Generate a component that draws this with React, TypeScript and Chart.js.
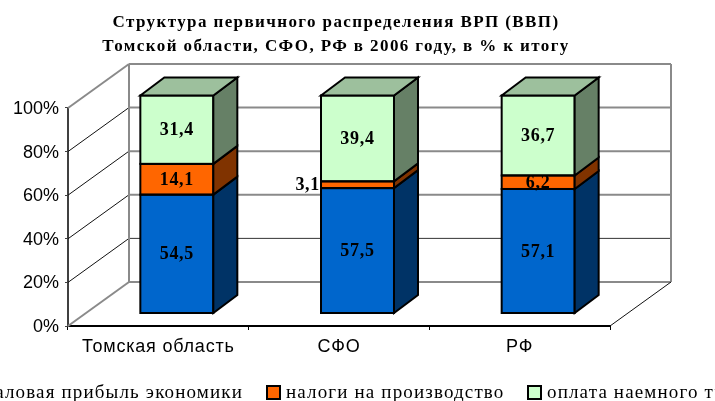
import React, { useEffect, useRef } from "react";
import { Chart, registerables } from "chart.js";

Chart.register(...registerables);

const categories = ["Томская область", "СФО", "РФ"];
const seriesNames = ["валовая прибыль экономики", "налоги на производство", "оплата наемного труда"];
const profit = [54.5, 57.5, 57.1];
const taxes = [14.1, 3.1, 6.2];
const wages = [31.4, 39.4, 36.7];
const titleLines = ["Структура первичного распределения ВРП (ВВП)", "Томской области, СФО, РФ в 2006 году, в % к итогу"];
const frontColors = ["#0066CC", "#FF6600", "#CCFFCC"];
const sideColors = ["#003366", "#803300", "#668066"];
const topColor = "#9DC09D";
const legendBoxes = [null, 267, 528];
const legendTexts = [243, 286, 547];

const WALL = { dx: 61, dy: 44 };
const BAR = { dx: 18.5, dy: 12.5, sideX: 24, sideY: 18 };

const spaced = (ctx: any, spacing: string, draw: () => void) => {
  ctx.letterSpacing = spacing;
  draw();
  ctx.letterSpacing = "0px";
};

const scene3d = {
  id: "scene3d",
  beforeDraw(chart: any) {
    if (chart.$spacingPatched) return;
    chart.$spacingPatched = true;
    const { ctx } = chart;
    const title = chart.titleBlock;
    const drawTitle = title.draw.bind(title);
    title.draw = (...args: any[]) => {
      ctx.save();
      ctx.translate(31, 0);
      spaced(ctx, "1.4px", () => drawTitle(...args));
      ctx.restore();
    };
    const x = chart.scales.x;
    const drawLabels = x.drawLabels.bind(x);
    x.drawLabels = (...args: any[]) => spaced(ctx, "0.8px", () => drawLabels(...args));
    const y = chart.scales.y;
    const drawYLabels = y.drawLabels.bind(y);
    y.drawLabels = (...args: any[]) => {
      ctx.save();
      ctx.translate(0, 1);
      drawYLabels(...args);
      ctx.restore();
    };
  },
  beforeDatasetsDraw(chart: any) {
    const { ctx, chartArea: a, scales } = chart;
    const y = scales.y;
    ctx.save();
    const line = (x1: number, y1: number, x2: number, y2: number, c: string, w: number) => {
      ctx.strokeStyle = c;
      ctx.lineWidth = w;
      ctx.beginPath();
      ctx.moveTo(x1, y1);
      ctx.lineTo(x2, y2);
      ctx.stroke();
    };
    y.ticks.forEach((t: any) => {
      const py = y.getPixelForValue(t.value);
      const edge = t.value === 0 || t.value === 100;
      line(a.left, py, a.left + WALL.dx, py - WALL.dy, edge ? "#8A8A8A" : "#111", edge ? 2 : 1);
      line(
        a.left + WALL.dx, py - WALL.dy, a.right + WALL.dx, py - WALL.dy,
        t.value === 20 ? "#333" : "#8A8A8A", t.value === 20 ? 1 : 2
      );
    });
    const top = y.getPixelForValue(100) - WALL.dy;
    const bottom = y.getPixelForValue(0) - WALL.dy;
    line(a.left + WALL.dx, top, a.left + WALL.dx, bottom, "#8A8A8A", 2);
    line(a.right + WALL.dx, top, a.right + WALL.dx, bottom, "#8A8A8A", 2);
    line(a.right, a.bottom, a.right + WALL.dx, bottom, "#111", 1);
    ctx.restore();
    ctx.save();
    ctx.translate(BAR.dx, -BAR.dy);
  },
  afterDatasetsDraw(chart: any) {
    const { ctx } = chart;
    ctx.lineWidth = 2;
    ctx.strokeStyle = "#000";
    ctx.lineJoin = "miter";
    chart.data.datasets.forEach((ds: any, d: number) => {
      chart.getDatasetMeta(d).data.forEach((el: any) => {
        const r = el.x + el.width / 2;
        const l = el.x - el.width / 2;
        ctx.strokeRect(l, el.y, el.width, el.base - el.y);
        ctx.fillStyle = sideColors[d];
        ctx.beginPath();
        ctx.moveTo(r, el.y);
        ctx.lineTo(r + BAR.sideX, el.y - BAR.sideY);
        ctx.lineTo(r + BAR.sideX, el.base - BAR.sideY);
        ctx.lineTo(r, el.base);
        ctx.closePath();
        ctx.fill();
        ctx.stroke();
        if (d === chart.data.datasets.length - 1) {
          ctx.fillStyle = topColor;
          ctx.beginPath();
          ctx.moveTo(l, el.y);
          ctx.lineTo(l + BAR.sideX, el.y - BAR.sideY);
          ctx.lineTo(r + BAR.sideX, el.y - BAR.sideY);
          ctx.lineTo(r, el.y);
          ctx.closePath();
          ctx.fill();
          ctx.stroke();
        }
      });
    });
    ctx.fillStyle = "#000";
    ctx.font = "bold 18px 'Liberation Serif'";
    ctx.letterSpacing = "0.7px";
    ctx.textBaseline = "middle";
    chart.data.datasets.forEach((ds: any, d: number) => {
      chart.getDatasetMeta(d).data.forEach((el: any, i: number) => {
        const v = ds.data[i];
        const text = v.toFixed(1).replace(".", ",");
        const outside = v < 5;
        ctx.textAlign = outside ? "right" : "center";
        ctx.fillText(text, outside ? el.x - el.width / 2 - 1 : el.x, (el.y + el.base) / 2 + 1);
      });
    });
    ctx.letterSpacing = "0px";
    ctx.restore();

    // legend, wider than the picture as in the original
    ctx.save();
    ctx.font = "19px 'Liberation Serif'";
    ctx.letterSpacing = "1.15px";
    ctx.textBaseline = "middle";
    ctx.textAlign = "left";
    ctx.fillStyle = "#000";
    seriesNames.forEach((name, i) => {
      const bx = legendBoxes[i];
      if (bx !== null) {
        ctx.fillStyle = frontColors[i];
        ctx.fillRect(bx, 386, 13, 13);
        ctx.strokeStyle = "#000";
        ctx.lineWidth = 2;
        ctx.strokeRect(bx, 386, 13, 13);
        ctx.fillStyle = "#000";
      }
      ctx.textAlign = i === 0 ? "right" : "left";
      ctx.fillText(name, legendTexts[i], 393);
    });
    ctx.letterSpacing = "0px";
    ctx.restore();
  },
};

export default function App() {
  const ref = useRef<HTMLCanvasElement>(null);
  useEffect(() => {
    const series = [profit, taxes, wages];
    const chart = new Chart(ref.current!, {
      type: "bar",
      data: {
        labels: categories,
        datasets: series.map((data, i) => ({
          label: seriesNames[i],
          data,
          backgroundColor: frontColors[i],
          borderWidth: 0,
          barPercentage: 0.404,
          categoryPercentage: 1,
          clip: false,
        })),
      } as any,
      options: {
        responsive: false,
        animation: false,
        layout: { padding: { left: 0, right: 105, top: 0, bottom: 0 } },
        plugins: {
          legend: { display: false },
          tooltip: { enabled: false },
          title: {
            display: true,
            text: titleLines,
            color: "#000",
            font: { family: "'Liberation Serif'", size: 17, weight: "bold", lineHeight: 1.41 },
            padding: { top: 11, bottom: 49 },
          },
        },
        scales: {
          x: {
            stacked: true,
            afterFit: (s: any) => { s.height = 75; },
            grid: { drawOnChartArea: false, drawTicks: true, tickLength: 4, color: "#000" },
            border: { color: "#000", width: 2 },
            ticks: { color: "#000", font: { family: "'Liberation Sans'", size: 18 }, padding: 6, maxRotation: 0 },
          },
          y: {
            stacked: true,
            min: 0,
            max: 100,
            afterFit: (s: any) => { s.width = 68; },
            grid: { drawOnChartArea: false, drawTicks: true, tickLength: 3, color: "#404040" },
            border: { color: "#404040", width: 2 },
            ticks: {
              stepSize: 20,
              color: "#000",
              font: { family: "'Liberation Sans'", size: 18 },
              padding: 6,
              callback: (v: any) => v + "%",
            },
          },
        },
      } as any,
      plugins: [scene3d],
    });
    return () => chart.destroy();
  }, []);
  return (
    <div style={{ position: "absolute", left: 0, top: 0, width: 715, height: 401, overflow: "hidden", background: "#fff" }}>
      <canvas ref={ref} width={715} height={401} style={{ display: "block" }} />
    </div>
  );
}
